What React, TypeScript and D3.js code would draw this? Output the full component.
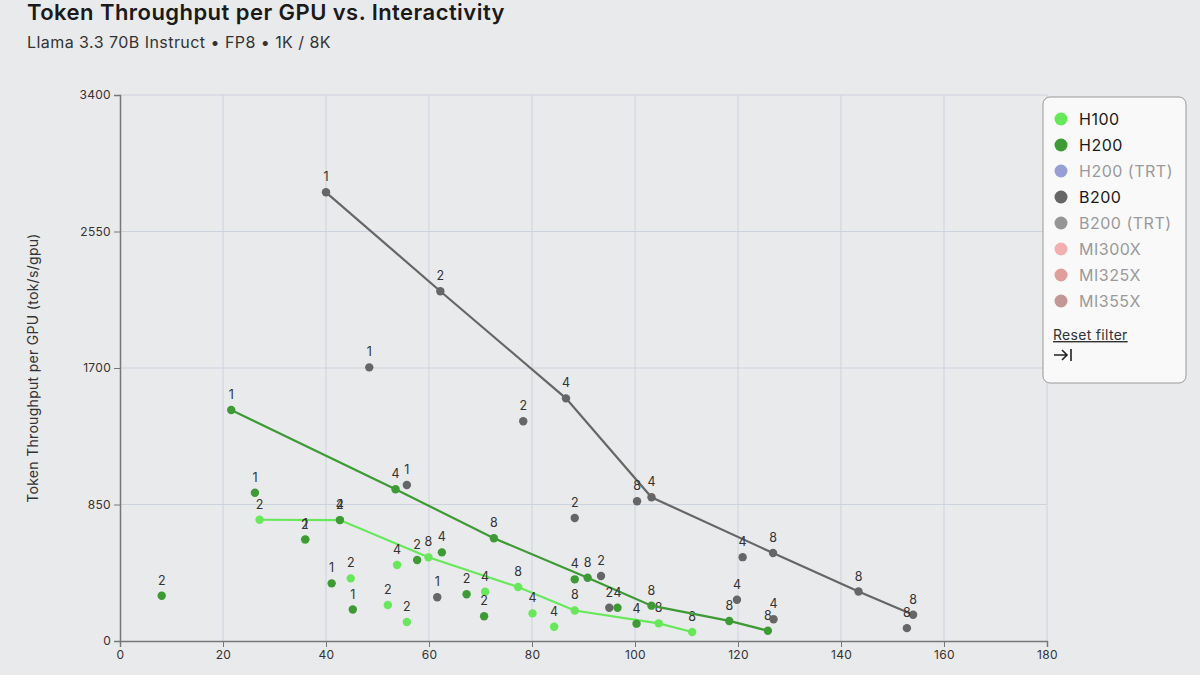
import React, { useEffect, useRef } from "react";
import * as d3 from "d3";

// [interactivity (tok/s/user), throughput per GPU (tok/s/gpu), TP label]
const H100_FRONTIER: [number, number, number][] = [
  [27.1, 755, 2], [42.7, 753, 4], [59.9, 521, 8], [77.3, 336, 8], [88.3, 190, 8], [104.6, 110, 8], [111.1, 56, 8],
];
const H100_OTHER: [number, number, number][] = [
  [35.9, 631, 2], [44.8, 390, 2], [52.0, 224, 2], [55.7, 118, 2], [53.8, 473, 4], [70.9, 307, 4], [80.1, 172, 4], [84.3, 89, 4],
];
const H200_FRONTIER: [number, number, number][] = [
  [21.6, 1438, 1], [53.5, 945, 4], [72.6, 640, 8], [90.8, 394, 8], [103.2, 220, 8], [118.3, 125, 8], [125.8, 64, 8],
];
const H200_OTHER: [number, number, number][] = [
  [26.2, 923, 1], [42.7, 753, 2], [36.0, 633, 1], [8.1, 282, 2], [41.1, 359, 1], [45.2, 196, 1], [57.7, 504, 2],
  [62.5, 552, 4], [67.3, 291, 2], [70.7, 154, 2], [88.3, 384, 4], [96.6, 207, 4], [100.3, 108, 4],
];
const B200_FRONTIER: [number, number, number][] = [
  [40.0, 2794, 1], [62.2, 2178, 2], [86.6, 1511, 4], [103.2, 895, 4], [126.8, 548, 8], [143.4, 308, 8], [154.0, 163, 8],
];
const B200_OTHER: [number, number, number][] = [
  [48.4, 1704, 1], [78.3, 1368, 2], [55.7, 971, 1], [88.3, 766, 2], [61.6, 272, 1], [100.4, 870, 8], [93.4, 405, 2],
  [95.0, 207, 2], [120.9, 522, 4], [119.8, 257, 4], [126.9, 135, 4], [152.8, 80, 8],
];

const X_TICKS = [0, 20, 40, 60, 80, 100, 120, 140, 160, 180];
const Y_TICKS = [0, 850, 1700, 2550, 3400];

const LEGEND_NAMES = ["H100", "H200", "H200 (TRT)", "B200", "B200 (TRT)", "MI300X", "MI325X", "MI355X"];
const LEGEND_COLORS = ["#66e85a", "#3d9a34", "#8590cc", "#666666", "#858585", "#f0a3a1", "#d98f8b", "#b98682"];
const LEGEND_ACTIVE = [true, true, false, true, false, false, false, false];

const SERIES = [
  { name: "H100", color: "#66e85a", frontier: H100_FRONTIER, other: H100_OTHER },
  { name: "H200", color: "#3d9a34", frontier: H200_FRONTIER, other: H200_OTHER },
  { name: "B200", color: "#666666", frontier: B200_FRONTIER, other: B200_OTHER },
];

const W = 1200;
const H = 675;
const M = { left: 120, right: 153, top: 95, bottom: 34 };
const FONT = "Inter, 'Noto Sans', sans-serif";

export default function App() {
  const axRef = useRef<SVGGElement>(null);
  const x = d3.scaleLinear().domain([0, 180]).range([M.left, W - M.right]);
  const y = d3.scaleLinear().domain([0, 3400]).range([H - M.bottom, M.top]);

  useEffect(() => {
    if (!axRef.current) return;
    const g = d3.select(axRef.current);
    g.selectAll("*").remove();
    const xa = g.append("g").attr("transform", `translate(0,${y(0)})`)
      .call(d3.axisBottom(x).tickValues(X_TICKS).tickFormat(d3.format("d")));
    const ya = g.append("g").attr("transform", `translate(${x(0)},0)`)
      .call(d3.axisLeft(y).tickValues(Y_TICKS).tickFormat(d3.format("d")));
    [xa, ya].forEach((a) => {
      a.select(".domain").attr("stroke", "#777").attr("stroke-width", 1.5);
      a.selectAll(".tick line").attr("stroke", "#777");
      a.selectAll(".tick text").attr("fill", "#333").attr("font-size", 12).attr("font-family", FONT)
        .attr("letter-spacing", 0.3);
    });
  }, []);

  const line = d3.line<[number, number, number]>().x((d) => x(d[0])).y((d) => y(d[1]));

  return (
    <svg width={W} height={H} style={{ position: "absolute", left: 0, top: 0, background: "#e9eaec" }}>
      <rect x={0} y={0} width={W} height={H} fill="#e9eaec" />
      <text x={27} y={20} fontFamily={FONT} fontSize={22} fontWeight={600} fill="#1a1a1a" letterSpacing={0.45}>
        Token Throughput per GPU vs. Interactivity
      </text>
      <text x={27} y={48} fontFamily={FONT} fontSize={16} fill="#333" letterSpacing={0.45}>
        Llama 3.3 70B Instruct • FP8 • 1K / 8K
      </text>
      {/* grid */}
      <g>
        {X_TICKS.filter((t) => t > 0).map((t) => (
          <line key={"gx" + t} x1={x(t)} x2={x(t)} y1={y(0)} y2={y(3400)} stroke="#cdd3dd" strokeWidth={1} />
        ))}
        {Y_TICKS.filter((t) => t > 0).map((t) => (
          <line key={"gy" + t} x1={x(0)} x2={x(180)} y1={y(t)} y2={y(t)} stroke="#cdd3dd" strokeWidth={1} />
        ))}
      </g>
      <g ref={axRef} />
      <text transform={`translate(38,${(y(0) + y(3400)) / 2}) rotate(-90)`} textAnchor="middle"
        fontFamily={FONT} fontSize={14} fill="#333" letterSpacing={0.3}>
        Token Throughput per GPU (tok/s/gpu)
      </text>
      {SERIES.map((s) => (
        <g key={s.name}>
          <path d={line(s.frontier) || ""} fill="none" stroke={s.color} strokeWidth={2.2} />
          {[...s.frontier, ...s.other].map((d, i) => (
            <g key={i}>
              <circle cx={x(d[0])} cy={y(d[1])} r={4.2} fill={s.color} />
              <text x={x(d[0])} y={y(d[1]) - 11} textAnchor="middle" fontFamily={FONT} fontSize={12.5} fill="#333">
                {d[2]}
              </text>
            </g>
          ))}
        </g>
      ))}
      {/* legend */}
      <g>
        <rect x={1043} y={97} width={143} height={286} rx={7} fill="#f9f9fa" stroke="#9a9a9a" strokeWidth={1} />
        {LEGEND_NAMES.map((n, i) => (
          <g key={n}>
            <circle cx={1061} cy={119 + i * 26} r={6.5} fill={LEGEND_COLORS[i]} opacity={LEGEND_ACTIVE[i] ? 1 : 0.85} />
            <text x={1079} y={119 + i * 26} dy="0.35em" fontFamily={FONT} fontSize={16} letterSpacing={0.5}
              fill={LEGEND_ACTIVE[i] ? "#1a1a1a" : "#9a9a9a"}>
              {n}
            </text>
          </g>
        ))}
        <text x={1053} y={340} fontFamily={FONT} fontSize={14} fill="#333" textDecoration="underline" letterSpacing={0.3}>
          Reset filter
        </text>
        <path d="M1054,355 H1067 M1062,350 L1067,355 L1062,360 M1071,349 V361" fill="none" stroke="#222" strokeWidth={1.6} />
      </g>
    </svg>
  );
}
